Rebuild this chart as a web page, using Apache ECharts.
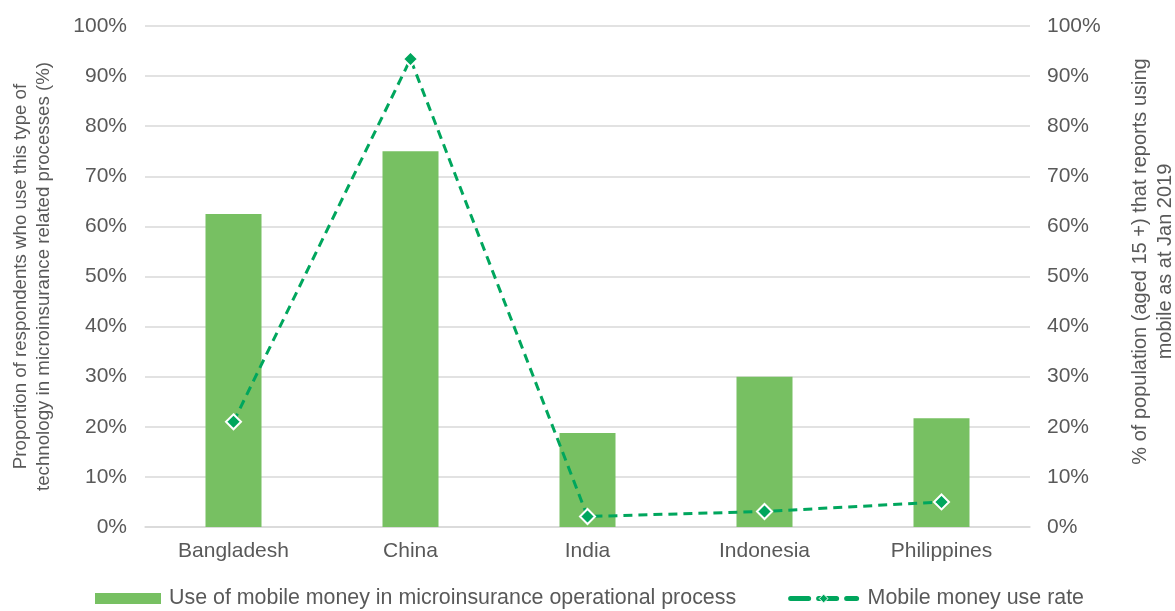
<!DOCTYPE html>
<html>
<head>
<meta charset="utf-8">
<script src="https://cdn.jsdelivr.net/npm/echarts@6/dist/echarts.min.js"></script>
<style>html,body{margin:0;padding:0;background:#fff}#c{width:1175px;height:611px}</style>
</head>
<body>
<div id="c"></div>
<script>
const categories = ['Bangladesh', 'China', 'India', 'Indonesia', 'Philippines'];
const barValues = [62.5, 75.0, 18.75, 30.0, 21.7];
const lineValues = [21.0, 93.4, 2.1, 3.1, 5.0];
const barName = 'Use of mobile money in microinsurance operational process';
const lineName = 'Mobile money use rate';
const leftTitle = 'Proportion of respondents who use this type of\ntechnology in microinsurance related processes (%)';
const rightTitle = '% of population (aged 15 +) that reports using\nmobile as at Jan 2019';

const txt = '#595959';
const font = 'Liberation Sans, Arial, sans-serif';
const chart = echarts.init(document.getElementById('c'));
chart.setOption({
  animation: false,
  textStyle: { fontFamily: font },
  grid: { left: 145, right: 145, top: 26, bottom: 84, outerBoundsMode: 'none', containLabel: false },
  legend: {
    bottom: -3, left: 90, itemGap: 52,
    itemWidth: 66, itemHeight: 11,
    textStyle: { color: txt, fontSize: 21.4, fontFamily: font },
    data: [
      { name: barName, icon: 'rect', textStyle: { padding: [0, 0, 0, 3] } },
      { name: lineName, lineStyle: { width: 5, type: [18, 10], cap: 'round' }, itemStyle: { borderWidth: 1 }, textStyle: { padding: [0, 0, 0, 6] } }
    ]
  },
  xAxis: {
    type: 'category', data: categories,
    axisLine: { lineStyle: { color: '#d9d9d9', width: 1.5 } },
    axisTick: { show: false },
    axisLabel: { color: txt, fontSize: 21, margin: 14 }
  },
  yAxis: [
    {
      type: 'value', min: 0, max: 100, interval: 10,
      name: leftTitle, nameLocation: 'middle', nameRotate: 90, nameGap: 90,
      nameTextStyle: { color: txt, fontSize: 18.7, lineHeight: 23, fontFamily: font },
      axisLabel: { formatter: '{value}%', color: txt, fontSize: 21, margin: 18 },
      splitLine: { lineStyle: { color: '#d9d9d9', width: 1.5 } },
      axisLine: { show: false }, axisTick: { show: false }
    },
    {
      type: 'value', min: 0, max: 100, interval: 10,
      name: rightTitle, nameLocation: 'middle', nameRotate: 90, nameGap: 98,
      nameTextStyle: { color: txt, fontSize: 20, lineHeight: 25, fontFamily: font, padding: [0, 0, 0, 30] },
      axisLabel: { formatter: '{value}%', color: txt, fontSize: 21, margin: 17 },
      splitLine: { show: false },
      axisLine: { show: false }, axisTick: { show: false }
    }
  ],
  series: [
    {
      name: barName, type: 'bar', data: barValues, barWidth: 56,
      itemStyle: { color: '#77c062' }
    },
    {
      name: lineName, type: 'line', yAxisIndex: 1, data: lineValues,
      symbol: 'diamond', symbolSize: 15,
      lineStyle: { color: '#00a65d', width: 3, type: [9, 6] },
      itemStyle: { color: '#00a65d', borderColor: '#fff', borderWidth: 2 },
      z: 5
    }
  ]
});
</script>
</body>
</html>
